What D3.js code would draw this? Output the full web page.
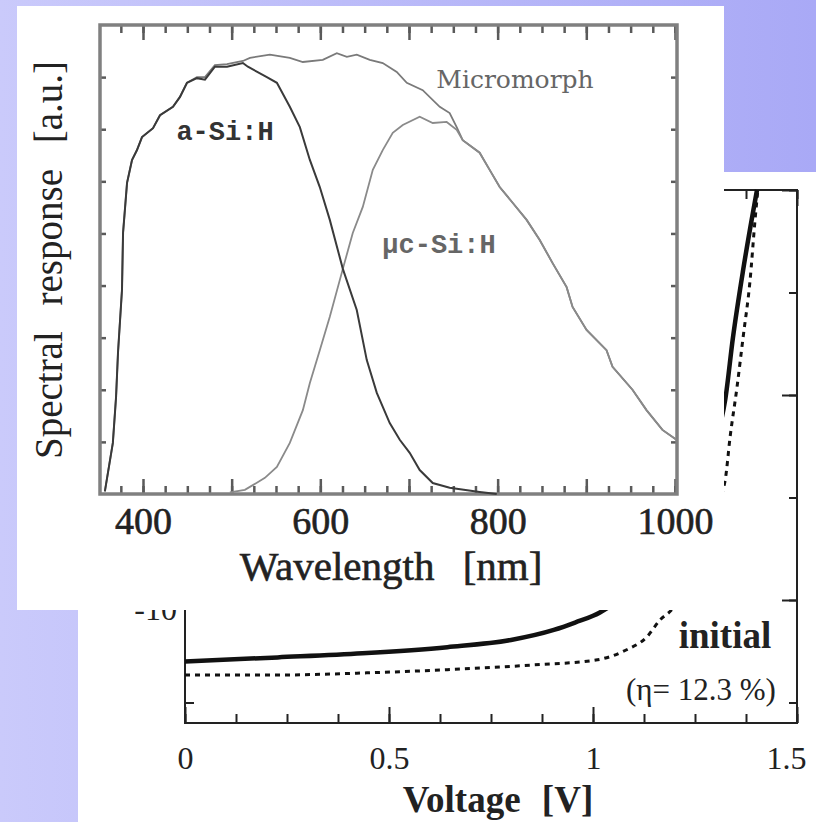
<!DOCTYPE html>
<html><head><meta charset="utf-8">
<script src="https://cdn.jsdelivr.net/npm/d3@7"></script>
<style>html,body{margin:0;padding:0;overflow:hidden;background:#b8b8f8}</style>
</head><body><svg id="c" width="816" height="822"></svg>
<script>
// ---------- Spectral response data (wavelength nm, response a.u.) ----------
const aSiH = [[357,0.005],[366,0.098],[369.6,0.186],[371.8,0.271],[376.3,0.392],[377.5,0.501],[382,0.597],[387.6,0.641],[393.2,0.66],[398.9,0.685],[411.3,0.702],[419.2,0.727],[433.8,0.743],[441.7,0.762],[449.6,0.789],[460.8,0.798],[469.9,0.795],[481.1,0.82],[494.7,0.82],[512.7,0.827],[518.3,0.82],[539.7,0.8],[551,0.789],[565.6,0.743],[576.9,0.704],[588.2,0.641],[599.4,0.589],[610.7,0.526],[625.4,0.432],[641.1,0.353],[652.4,0.257],[663.7,0.194],[678.3,0.136],[689.6,0.104],[700.8,0.079],[712.1,0.046],[726.8,0.021],[745.9,0.012],[779.7,0.004],[799,0.0]];
const ucSiH = [[498,0.003],[514.9,0.008],[523.9,0.017],[537.5,0.031],[551,0.052],[565.6,0.098],[580.3,0.161],[588.2,0.213],[599.4,0.276],[610.7,0.34],[625.4,0.432],[636.6,0.501],[647.9,0.551],[659.2,0.622],[670.4,0.66],[681.7,0.693],[693,0.708],[712.1,0.724],[726.8,0.712],[742.5,0.714],[753.8,0.699],[760.6,0.679],[779.7,0.655],[791,0.622],[802.3,0.589],[816.9,0.559],[832.7,0.526],[847.3,0.488],[862,0.443],[877.8,0.397],[884.5,0.359],[900.3,0.315],[922.8,0.276],[929.6,0.244],[952.1,0.2],[967.9,0.161],[985.9,0.123],[1001.7,0.104]];
const micromorph = [[357,0.005],[366,0.098],[369.6,0.186],[371.8,0.271],[376.3,0.392],[377.5,0.501],[382,0.597],[387.6,0.641],[393.2,0.66],[398.9,0.685],[411.3,0.702],[419.2,0.727],[433.8,0.743],[441.7,0.762],[449.6,0.789],[460.8,0.8],[469.9,0.8],[481.1,0.823],[494.7,0.825],[512.7,0.831],[520.6,0.837],[543.1,0.843],[565.6,0.837],[580.3,0.829],[602.8,0.833],[618.6,0.846],[629.9,0.839],[641.1,0.843],[655.8,0.833],[670.4,0.827],[686.2,0.81],[697.5,0.789],[715.5,0.775],[734.7,0.743],[745.9,0.731],[753.8,0.704],[760.6,0.679],[779.7,0.655],[791,0.622],[802.3,0.589],[816.9,0.559],[832.7,0.526],[847.3,0.488],[862,0.443],[877.8,0.397],[884.5,0.359],[900.3,0.315],[922.8,0.276],[929.6,0.244],[952.1,0.2],[967.9,0.161],[985.9,0.123],[1001.7,0.104]];
const wlLabelTicks = [400,600,800,1000];
const wlMajorTicks = [400,500,600,700,800,900,1000];
const wlMinorTicks = d3.range(375,1001,25);
const srTicks = [0.1,0.2,0.3,0.4,0.5,0.6,0.7,0.8];

// ---------- J-V data (voltage V, current density) ----------
const jvStabilized = [[0,-13.0],[0.227,-12.8],[0.435,-12.6],[0.643,-12.3],[0.799,-11.95],[0.904,-11.46],[0.956,-11.1],[1.018,-10.6],[1.1,-9.3],[1.2,-6.5],[1.27,-3.5],[1.324,-0.24],[1.343,2.8],[1.368,6.1],[1.402,10]];
const jvInitial = [[0,-13.66],[0.227,-13.66],[0.435,-13.56],[0.643,-13.4],[0.852,-13.17],[1.007,-12.93],[1.081,-12.44],[1.132,-11.8],[1.164,-10.98],[1.196,-10.4],[1.25,-8.2],[1.3,-5.5],[1.324,-4.15],[1.336,-2.05],[1.353,0.39],[1.368,2.83],[1.385,5.6],[1.397,8.5],[1.404,10]];
const vLabelTicks = [0,0.5,1,1.5];
const vMinorTicks = d3.range(0,1.51,0.125);
const jMajorTicks = [-10,0,10];
const jMinorTicks = [-15,-10,-5,0,5,10];

const svg = d3.select('#c');
const defs = svg.append('defs');
const grad = defs.append('linearGradient').attr('id','bg').attr('x1','0').attr('x2','1').attr('y1','0').attr('y2','0');
grad.append('stop').attr('offset','0').attr('stop-color','#cacafb');
grad.append('stop').attr('offset','1').attr('stop-color','#a9a9f6');
svg.append('rect').attr('width',816).attr('height',822).attr('fill','url(#bg)');

const serif = '"Liberation Serif","Times New Roman",serif';

// ================= J-V chart (behind) =================
const jx = d3.scaleLinear().domain([0,1.5]).range([185,797]);
const jy = d3.scaleLinear().domain([-16,10]).range([723,190]);
const gJ = svg.append('g');
gJ.append('rect').attr('x',78).attr('y',172).attr('width',738).attr('height',650).attr('fill','#fff');

function styleAxis(g, col, w){
  g.select('.domain').remove();
  g.selectAll('.tick line').attr('stroke',col).attr('stroke-width',w);
}
// bottom
gJ.append('g').attr('transform',`translate(0,${jy(-16)})`)
  .call(d3.axisBottom(jx).tickValues(vMinorTicks).tickSize(-9).tickFormat(''))
  .call(g=>styleAxis(g,'#222',2));
gJ.append('g').attr('transform',`translate(0,${jy(-16)})`)
  .call(d3.axisBottom(jx).tickValues(vLabelTicks).tickSize(-16).tickPadding(23).tickFormat(d=>d3.format('')(d)))
  .call(g=>styleAxis(g,'#222',2))
  .call(g=>g.selectAll('text').attr('font-family',serif).attr('font-size',32).attr('fill','#222')
     .attr('dx',(d,i)=> d===1.5 ? -11 : 0));
// top
gJ.append('g').attr('transform',`translate(0,${jy(10)})`)
  .call(d3.axisTop(jx).tickValues(vMinorTicks).tickSize(-9).tickFormat(''))
  .call(g=>styleAxis(g,'#222',2));
gJ.append('g').attr('transform',`translate(0,${jy(10)})`)
  .call(d3.axisTop(jx).tickValues(vLabelTicks).tickSize(-16).tickFormat(''))
  .call(g=>styleAxis(g,'#222',2));
// left
gJ.append('g').attr('transform',`translate(${jx(0)},0)`)
  .call(d3.axisLeft(jy).tickValues(jMinorTicks).tickSize(-9).tickFormat(''))
  .call(g=>styleAxis(g,'#222',2));
gJ.append('g').attr('transform',`translate(${jx(0)},0)`)
  .call(d3.axisLeft(jy).tickValues(jMajorTicks).tickSize(-16).tickPadding(8).tickFormat(d=>String(d)))
  .call(g=>styleAxis(g,'#222',2))
  .call(g=>g.selectAll('text').attr('font-family',serif).attr('font-size',32).attr('fill','#222')
     .attr('x',-8).attr('y',9));
// right
gJ.append('g').attr('transform',`translate(${jx(1.5)},0)`)
  .call(d3.axisRight(jy).tickValues(jMinorTicks).tickSize(-8).tickFormat(''))
  .call(g=>styleAxis(g,'#222',2));
gJ.append('g').attr('transform',`translate(${jx(1.5)},0)`)
  .call(d3.axisRight(jy).tickValues(jMajorTicks).tickSize(-15).tickFormat(''))
  .call(g=>styleAxis(g,'#222',2));
// frame
gJ.append('rect').attr('x',jx(0)).attr('y',jy(10)).attr('width',jx(1.5)-jx(0)).attr('height',jy(-16)-jy(10))
  .attr('fill','none').attr('stroke','#222').attr('stroke-width',2);

const jline = d3.line().x(d=>jx(d[0])).y(d=>jy(d[1])).curve(d3.curveMonotoneX);
gJ.append('path').datum(jvInitial).attr('d',jline).attr('fill','none').attr('stroke','#111')
  .attr('stroke-width',3).attr('stroke-dasharray','5,5');
gJ.append('path').datum(jvStabilized).attr('d',jline).attr('fill','none').attr('stroke','#111')
  .attr('stroke-width',4.5);

gJ.append('text').attr('x',725).attr('y',648).attr('text-anchor','middle')
  .attr('font-family',serif).attr('font-weight','bold').attr('font-size',37).attr('fill','#222').text('initial');
gJ.append('text').attr('x',701).attr('y',700).attr('text-anchor','middle')
  .attr('font-family',serif).attr('font-size',31).attr('fill','#222').text('(\u03b7= 12.3 %)');
gJ.append('text').attr('x',498).attr('y',812).attr('text-anchor','middle')
  .attr('font-family',serif).attr('font-weight','bold').attr('font-size',37).attr('word-spacing',12).attr('fill','#222').text('Voltage  [V]');

// ================= Spectral response chart (front) =================
const sx = d3.scaleLinear().domain([351.5,1002.3]).range([100,677]);
const sy = d3.scaleLinear().domain([0,0.9]).range([494,25]);
const gS = svg.append('g');
gS.append('rect').attr('x',17).attr('y',6).attr('width',707).attr('height',604).attr('fill','#fff');

const tcol = '#5a5a5a';
gS.append('g').attr('transform',`translate(0,${sy(0)})`)
  .call(d3.axisBottom(sx).tickValues(wlMinorTicks).tickSize(-8).tickFormat(''))
  .call(g=>styleAxis(g,tcol,2.5));
gS.append('g').attr('transform',`translate(0,${sy(0)})`)
  .call(d3.axisBottom(sx).tickValues(wlMajorTicks).tickSize(-15).tickFormat(''))
  .call(g=>styleAxis(g,tcol,2.5));
gS.append('g').attr('transform',`translate(0,${sy(0)})`)
  .call(d3.axisBottom(sx).tickValues(wlLabelTicks).tickSize(0).tickPadding(13).tickFormat(d=>String(d)))
  .call(g=>g.select('.domain').remove())
  .call(g=>g.selectAll('text').attr('font-family',serif).attr('font-size',38).attr('fill','#222')
     .attr('stroke','#222').attr('stroke-width',0.6));
gS.append('g').attr('transform',`translate(0,${sy(0.9)})`)
  .call(d3.axisTop(sx).tickValues(wlMinorTicks).tickSize(-8).tickFormat(''))
  .call(g=>styleAxis(g,tcol,2.5));
gS.append('g').attr('transform',`translate(0,${sy(0.9)})`)
  .call(d3.axisTop(sx).tickValues(wlMajorTicks).tickSize(-15).tickFormat(''))
  .call(g=>styleAxis(g,tcol,2.5));
gS.append('g').attr('transform',`translate(${sx.range()[0]},0)`)
  .call(d3.axisLeft(sy).tickValues(srTicks).tickSize(-6).tickFormat(''))
  .call(g=>styleAxis(g,tcol,2.5));
gS.append('g').attr('transform',`translate(${sx.range()[1]},0)`)
  .call(d3.axisRight(sy).tickValues(srTicks).tickSize(-6).tickFormat(''))
  .call(g=>styleAxis(g,tcol,2.5));
gS.append('rect').attr('x',100).attr('y',25).attr('width',577).attr('height',469)
  .attr('fill','none').attr('stroke','#808080').attr('stroke-width',3.5);

const sline = d3.line().x(d=>sx(d[0])).y(d=>sy(d[1]));
gS.append('path').datum(micromorph).attr('d',sline).attr('fill','none').attr('stroke','#7a7a7a').attr('stroke-width',1.8);
gS.append('path').datum(ucSiH).attr('d',sline).attr('fill','none').attr('stroke','#8a8a8a').attr('stroke-width',1.8);
gS.append('path').datum(aSiH).attr('d',sline).attr('fill','none').attr('stroke','#3a3a3a').attr('stroke-width',2);

gS.append('text').attr('x',225).attr('y',140).attr('text-anchor','middle')
  .attr('font-family','"Liberation Mono",monospace').attr('font-weight','bold').attr('font-size',27).attr('fill','#333').text('a-Si:H');
gS.append('text').attr('x',439).attr('y',253).attr('text-anchor','middle')
  .attr('font-family','"Liberation Mono",monospace').attr('font-weight','bold').attr('font-size',27).attr('fill','#666').text('\u00b5c-Si:H');
gS.append('text').attr('x',515).attr('y',88).attr('text-anchor','middle')
  .attr('font-family','"DejaVu Serif",serif').attr('font-size',25).attr('fill','#666').text('Micromorph');

gS.append('text').attr('x',391).attr('y',580).attr('text-anchor','middle')
  .attr('font-family',serif).attr('font-size',41).attr('word-spacing',18).attr('fill','#222')
  .attr('stroke','#222').attr('stroke-width',0.6).text('Wavelength  [nm]');
gS.append('text').attr('transform','translate(62,260) rotate(-90)').attr('text-anchor','middle')
  .attr('font-family',serif).attr('font-size',39).attr('word-spacing',16).attr('fill','#222')
  .text('Spectral  response  [a.u.]');
</script></body></html>
